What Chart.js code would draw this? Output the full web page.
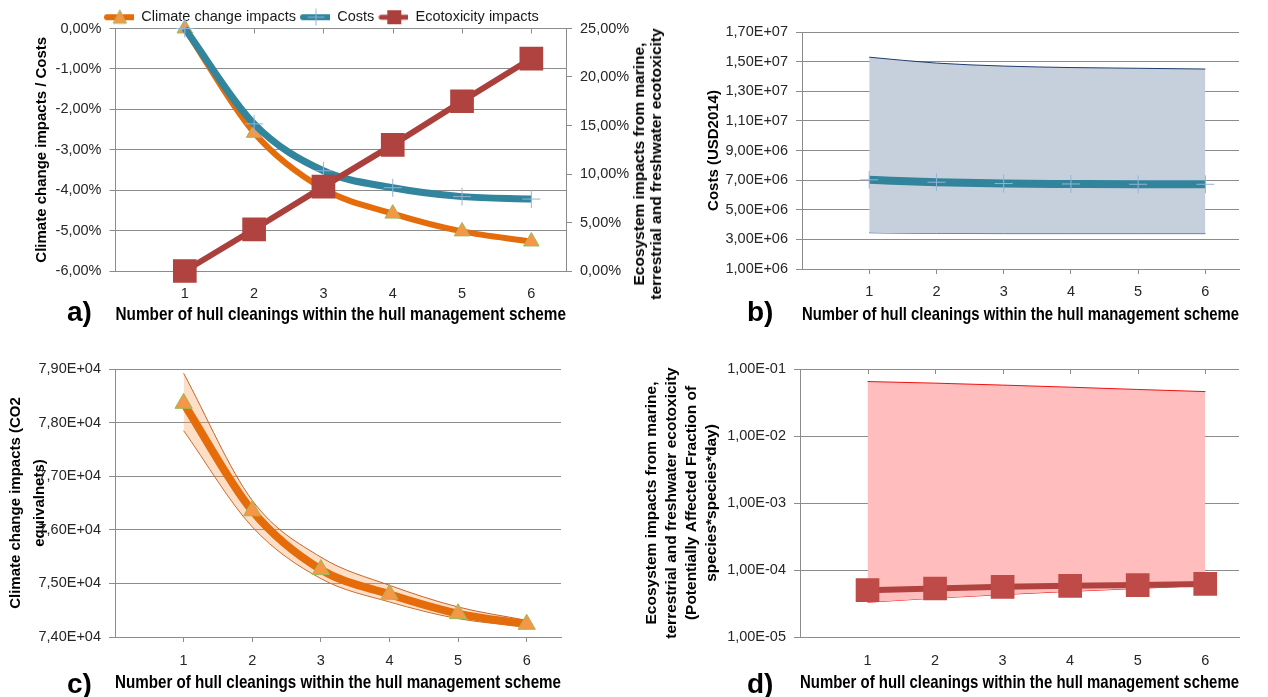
<!DOCTYPE html>
<html>
<head>
<meta charset="utf-8">
<script src="https://cdn.jsdelivr.net/npm/chart.js@4.4.1/dist/chart.umd.min.js"></script>
<style>
body { margin: 0; background: #fff; width: 1268px; height: 697px; position: relative; overflow: hidden; font-family: 'Liberation Sans Narrow', 'Liberation Sans', sans-serif; }
canvas { position: absolute; }
.tag { position: absolute; font-family: 'Liberation Sans', sans-serif; font-weight: bold; font-size: 28px; color: #000; line-height: 1; }
.rtitle { position: absolute; left: 647px; top: 164px; transform: translate(-50%, -50%) rotate(-90deg); white-space: pre; text-align: center; font-weight: bold; font-size: 15.5px; line-height: 17px; color: #000; }
</style>
</head>
<body>
<canvas id="chartA" width="640" height="330" style="left:0;top:0"></canvas>
<canvas id="chartB" width="628" height="330" style="left:640px;top:0"></canvas>
<canvas id="chartC" width="640" height="357" style="left:0;top:340px"></canvas>
<canvas id="chartD" width="628" height="357" style="left:640px;top:340px"></canvas>
<div class="rtitle">Ecosystem impacts from marine,
terrestrial and freshwater ecotoxicity</div>
<div class="tag" style="left:67px;top:298px">a)</div>
<div class="tag" style="left:747px;top:298px">b)</div>
<div class="tag" style="left:67px;top:670px">c)</div>
<div class="tag" style="left:747px;top:670px">d)</div>
<script>
// data
const cleanings = [1, 2, 3, 4, 5, 6];

// a) relative change vs. 1 cleaning (%)
const climatePct = [0, -2.58, -3.97, -4.58, -5.02, -5.27];
const costsPct = [0, -2.36, -3.52, -3.94, -4.16, -4.22];
const ecotoxPct = [0, 4.3, 8.7, 13.0, 17.5, 21.9];

// b) costs (USD2014)
const costsMean = [7.02e6, 6.86e6, 6.77e6, 6.74e6, 6.72e6, 6.72e6];
const costsUpper = [1.53e7, 1.49e7, 1.47e7, 1.46e7, 1.455e7, 1.45e7];
const costsLower = [3.45e6, 3.40e6, 3.39e6, 3.39e6, 3.39e6, 3.39e6];

// c) climate change impacts (CO2 eq)
const climateMean = [78360, 76354, 75258, 74797, 74436, 74237];
const climateUpper = [78920, 76550, 75490, 74965, 74560, 74311];
const climateLower = [77850, 76055, 75090, 74654, 74343, 74187];

// d) ecotoxicity (PAF*species*day)
const ecoMean = [5.0e-5, 5.3e-5, 5.6e-5, 5.8e-5, 5.95e-5, 6.2e-5];
const ecoUpper = [6.5e-2, 6.15e-2, 5.75e-2, 5.35e-2, 4.95e-2, 4.6e-2];
const ecoLower = [3.3e-5, 3.8e-5, 4.3e-5, 4.8e-5, 5.3e-5, 5.9e-5];

const xTitle = 'Number of hull cleanings within the hull management scheme';

const FONT = "'Liberation Sans Narrow', 'Liberation Sans', sans-serif";
const GRID = '#8c8c8c';
const TXT = '#262626';
const tickFont = { family: FONT, size: 14.5 };
const titleFont = { family: FONT, size: 15, weight: 'bold' };
const xTitleFont = { family: FONT, size: 18.5, weight: 'bold' };

const pts = arr => cleanings.map((x, i) => ({ x: x, y: arr[i] }));

function sci(v) {
  const parts = v.toExponential(2).split('e');
  const e = parseInt(parts[1], 10);
  const exp = (e < 0 ? '-' : '+') + String(Math.abs(e)).padStart(2, '0');
  return parts[0].replace('.', ',') + 'E' + exp;
}
function pct(v) {
  return v.toFixed(2).replace('.', ',') + '%';
}

// category axis: ticks below the bottom line unless the axis sits on top (a, d)
function xAxis(height, pad, titleBottom, bottomTicks) {
  return {
    type: 'linear', min: 0, max: 6.5,
    afterBuildTicks: s => { s.ticks = cleanings.map(v => ({ value: v })); },
    grid: { display: bottomTicks, drawOnChartArea: false, drawTicks: bottomTicks, tickLength: 5, color: GRID },
    border: { display: true, color: GRID },
    ticks: { padding: bottomTicks ? pad - 5 : pad, color: TXT, font: tickFont },
    title: { display: true, text: xTitle, color: '#000', font: xTitleFont, padding: { top: 0, bottom: titleBottom } },
    afterFit: s => { s.height = height; }
  };
}

function yAxis(width, extra) {
  return Object.assign({
    position: 'left',
    grid: { color: GRID, tickLength: 6 },
    border: { color: GRID },
    afterFit: s => { s.width = width; }
  }, extra);
}

// short tick marks hanging down from the top line of the plot
const topTicks = {
  id: 'topTicks',
  afterDraw(chart) {
    const x = chart.scales.x, top = chart.chartArea.top, g = chart.ctx;
    g.save();
    g.strokeStyle = GRID; g.lineWidth = 1;
    g.beginPath();
    cleanings.forEach(v => {
      const px = Math.round(x.getPixelForValue(v)) + 0.5;
      g.moveTo(px, top); g.lineTo(px, top + 5);
    });
    g.stroke();
    g.restore();
  }
};

// little line+marker icons for the legend
function legendIcon(color, width, marker) {
  const c = document.createElement('canvas');
  c.width = 30; c.height = 18;
  const g = c.getContext('2d');
  g.strokeStyle = color; g.lineWidth = width; g.lineCap = 'round';
  g.beginPath(); g.moveTo(3, 9); g.lineTo(29, 9); g.stroke();
  if (marker === 'triangle') {
    g.fillStyle = '#F79646'; g.strokeStyle = '#9BBB59'; g.lineWidth = 1;
    g.beginPath(); g.moveTo(16, 2); g.lineTo(22.5, 15); g.lineTo(9.5, 15); g.closePath(); g.fill(); g.stroke();
  } else if (marker === 'cross') {
    g.strokeStyle = '#95B3D7'; g.lineWidth = 1;
    g.beginPath(); g.moveTo(16, 1); g.lineTo(16, 17); g.moveTo(8, 9); g.lineTo(24, 9); g.stroke();
  } else {
    g.fillStyle = color;
    g.fillRect(9, 2, 14, 14);
  }
  return c;
}
const icons = [
  legendIcon('#E46C0A', 6, 'triangle'),
  legendIcon('#31859C', 6, 'cross'),
  legendIcon('#AB3F3C', 5, 'square')
];

// put the legend where the original has it, above the plot, left-started
const moveLegend = {
  id: 'moveLegend',
  afterLayout(chart) {
    const lg = chart.legend;
    if (!lg || !lg.options.display) return;
    const h = lg.height;
    lg.top = 6; lg.bottom = lg.top + h;
    const w = lg.right - lg.left;
    lg.left = 100; lg.right = lg.left + w;
  }
};

const base = {
  responsive: false,
  animation: false,
  plugins: { tooltip: { enabled: false }, legend: { display: false } }
};

// a) relative changes
new Chart(document.getElementById('chartA'), {
  type: 'line',
  data: {
    datasets: [
      {
        label: 'Climate change impacts', data: pts(climatePct), yAxisID: 'y', order: 3, clip: false,
        borderColor: '#E46C0A', borderWidth: 6, cubicInterpolationMode: 'monotone',
        pointStyle: 'triangle', pointRadius: 9, pointBackgroundColor: '#F79646', pointBorderColor: '#9BBB59', pointBorderWidth: 1
      },
      {
        label: 'Costs', data: pts(costsPct), yAxisID: 'y', order: 2, clip: false,
        borderColor: '#31859C', borderWidth: 7, cubicInterpolationMode: 'monotone',
        pointStyle: 'cross', pointRadius: 9, pointBorderColor: '#95B3D7', pointBorderWidth: 1
      },
      {
        label: 'Ecotoxicity impacts', data: pts(ecotoxPct), yAxisID: 'y2', order: 1, clip: false,
        borderColor: '#AB3F3C', borderWidth: 6, tension: 0,
        pointStyle: 'rect', pointRadius: 12.5, pointBackgroundColor: '#B0423F', pointBorderColor: '#B0423F'
      }
    ]
  },
  options: Object.assign({}, base, {
    plugins: {
      tooltip: { enabled: false },
      legend: {
        display: true, position: 'top', align: 'start',
        labels: {
          usePointStyle: true, pointStyleWidth: 30, padding: 4, color: '#1a1a1a',
          font: { family: FONT, size: 14.5 },
          sort: (a, b) => a.datasetIndex - b.datasetIndex,
          generateLabels: chart => Chart.defaults.plugins.legend.labels.generateLabels(chart)
            .map(it => Object.assign(it, { pointStyle: icons[it.datasetIndex] }))
        }
      }
    },
    scales: {
      x: xAxis(59, 14, 4, false),
      y: yAxis(115.5, {
        min: -6, max: 0,
        ticks: { padding: 8, color: TXT, font: tickFont, stepSize: 1, callback: v => pct(v) },
        title: { display: true, text: 'Climate change impacts / Costs', color: '#000', font: titleFont, padding: { top: 33, bottom: 0 } }
      }),
      y2: {
        position: 'right', min: 0, max: 25,
        grid: { drawOnChartArea: false, color: GRID, tickLength: 6 },
        border: { color: GRID },
        ticks: { padding: 8, color: TXT, font: tickFont, stepSize: 5, callback: v => pct(v) },
        afterFit: s => { s.width = 74; }
      }
    }
  }),
  plugins: [moveLegend, topTicks]
});

// b) costs with range
new Chart(document.getElementById('chartB'), {
  type: 'line',
  data: {
    datasets: [
      {
        label: 'Costs', data: pts(costsMean),
        borderColor: '#31849B', borderWidth: 8, cubicInterpolationMode: 'monotone',
        pointStyle: 'cross', pointRadius: 9, pointBorderColor: '#95B3D7', pointBorderWidth: 1
      },
      {
        label: 'Upper', data: pts(costsUpper), fill: '+1', backgroundColor: '#C6D0DD',
        borderColor: '#1F3D6B', borderWidth: 1, pointRadius: 0, cubicInterpolationMode: 'monotone'
      },
      {
        label: 'Lower', data: pts(costsLower), fill: false,
        borderColor: '#1F3D6B', borderWidth: 1, pointRadius: 0, cubicInterpolationMode: 'monotone'
      }
    ]
  },
  options: Object.assign({}, base, {
    layout: { padding: { top: 32, right: 29 } },
    scales: {
      x: xAxis(61, 14, 4, true),
      y: yAxis(162, {
        min: 1e6, max: 1.7e7,
        ticks: { padding: 8, color: TXT, font: tickFont, stepSize: 2e6, callback: v => sci(v) },
        title: { display: true, text: 'Costs (USD2014)', color: '#000', font: titleFont, padding: { top: 65, bottom: 0 } }
      })
    }
  })
});

// c) climate change impacts with range
new Chart(document.getElementById('chartC'), {
  type: 'line',
  data: {
    datasets: [
      {
        label: 'Climate change impacts', data: pts(climateMean),
        borderColor: '#E46C0A', borderWidth: 8, cubicInterpolationMode: 'monotone',
        pointStyle: 'triangle', pointRadius: 10, pointBackgroundColor: '#F79646', pointBorderColor: '#9BBB59', pointBorderWidth: 1
      },
      {
        label: 'Upper', data: pts(climateUpper), fill: '+1', backgroundColor: 'rgba(247,150,70,0.3)',
        borderColor: '#C0652A', borderWidth: 1, pointRadius: 0, cubicInterpolationMode: 'monotone'
      },
      {
        label: 'Lower', data: pts(climateLower), fill: false,
        borderColor: '#C0652A', borderWidth: 1, pointRadius: 0, cubicInterpolationMode: 'monotone'
      }
    ]
  },
  options: Object.assign({}, base, {
    layout: { padding: { top: 29, right: 79 } },
    scales: {
      x: xAxis(60, 15, 3, true),
      y: yAxis(115, {
        min: 74000, max: 79000,
        ticks: { padding: 8, color: TXT, font: tickFont, stepSize: 1000, callback: v => sci(v) },
        title: { display: true, text: ['Climate change impacts (CO2', 'equivalnets)'], color: '#000', font: Object.assign({}, titleFont, { lineHeight: 1.6 }), padding: { top: 4, bottom: 0 } }
      })
    }
  })
});

// d) ecotoxicity with range (log scale)
new Chart(document.getElementById('chartD'), {
  type: 'line',
  data: {
    datasets: [
      {
        label: 'Ecotoxicity impacts', data: pts(ecoMean),
        borderColor: '#B0423F', borderWidth: 6, tension: 0,
        pointStyle: 'rect', pointRadius: 12.5, pointBackgroundColor: '#BE4B48', pointBorderColor: '#BE4B48'
      },
      {
        label: 'Upper', data: pts(ecoUpper), fill: '+1', backgroundColor: '#FFBDBD',
        borderColor: '#F01010', borderWidth: 1, pointRadius: 0, tension: 0
      },
      {
        label: 'Lower', data: pts(ecoLower), fill: false,
        borderColor: '#F01010', borderWidth: 1, pointRadius: 0, tension: 0
      }
    ]
  },
  options: Object.assign({}, base, {
    layout: { padding: { top: 29, right: 29 } },
    scales: {
      x: xAxis(60, 15, 3, false),
      y: yAxis(160, {
        type: 'logarithmic', min: 1e-5, max: 1e-1,
        afterBuildTicks: s => { s.ticks = [1e-5, 1e-4, 1e-3, 1e-2, 1e-1].map(v => ({ value: v })); },
        ticks: { padding: 8, color: TXT, font: tickFont, callback: v => sci(v) },
        title: {
          display: true,
          text: ['Ecosystem impacts from marine,', 'terrestrial and freshwater ecotoxicity', '(Potentially Affected Fraction of', 'species*species*day)'],
          color: '#000', font: Object.assign({}, titleFont, { size: 15.5, lineHeight: 1.29 }), padding: { top: 2, bottom: 0 }
        }
      })
    }
  }),
  plugins: [topTicks]
});
</script>
</body>
</html>
